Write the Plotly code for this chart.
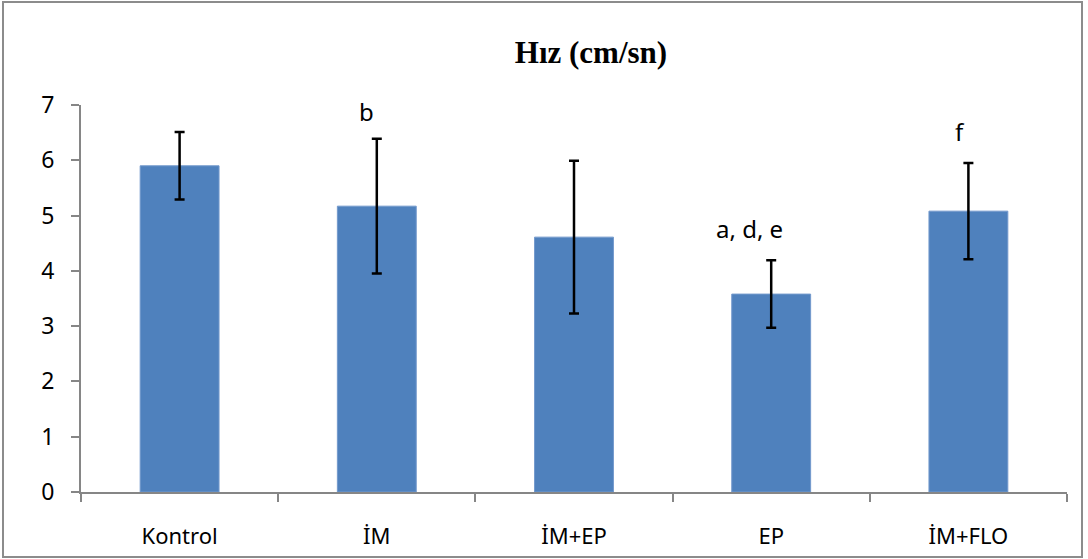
import plotly.graph_objects as go

categories = ["Kontrol", "İM", "İM+EP", "EP", "İM+FLO"]
means = [5.90, 5.17, 4.61, 3.58, 5.08]
errors = [0.61, 1.22, 1.38, 0.61, 0.87]
labels = ["", "b", "", "a, d, e", "f"]
label_xshift = [0, -10, 0, -22, -8]
label_yshift = [0, 9, 0, 13, 13]

L, R, T, B = 81, 21, 105, 67
W, H = 1088, 559
pw, ph = W - L - R, H - T - B

fig = go.Figure()
fig.add_trace(go.Bar(
    x=categories, y=means,
    marker=dict(color="#4F81BD", line=dict(color="#7399cc", width=1)),
    width=0.40,
    error_y=dict(type="data", array=errors, visible=True,
                 color="black", thickness=2.5, width=5),
    showlegend=False,
))

for c, m, e, t, xs, ys in zip(categories, means, errors, labels, label_xshift, label_yshift):
    if t:
        fig.add_annotation(x=c, y=m + e, text=t, showarrow=False,
                           yanchor="bottom", xshift=xs, yshift=ys,
                           font=dict(family="Noto Sans", size=24, color="black"))

fig.add_shape(type="rect", xref="paper", yref="paper",
              x0=(3 - L) / pw, x1=(1082 - L) / pw,
              y0=-(557 - (T + ph)) / ph, y1=(T + ph - 2) / ph,
              line=dict(color="#8c8c8c", width=2), layer="below")

fig.update_layout(
    width=W, height=H,
    margin=dict(l=L, r=R, t=T, b=B, autoexpand=False),
    paper_bgcolor="white", plot_bgcolor="white",
    title=dict(text="<b>Hız (cm/sn)</b>", x=(591 - L) / pw, xref="paper", xanchor="center",
               y=1 - 52 / H, yanchor="middle",
               font=dict(family="Liberation Serif", size=31, color="black")),
    font=dict(family="Noto Sans", size=22, color="black"),
)
fig.update_xaxes(showline=True, linecolor="#868686", linewidth=2, automargin=False,
                 ticks="outside", tickson="boundaries", ticklen=8, tickcolor="#868686",
                 tickwidth=1.5, showgrid=False, tickfont=dict(size=22), ticklabelstandoff=24)
fig.update_yaxes(range=[0, 7], dtick=1, showline=True, linecolor="#868686", linewidth=2,
                 automargin=False,
                 ticks="outside", ticklen=8, tickcolor="#868686", tickwidth=1.5,
                 showgrid=False, zeroline=False, tickfont=dict(size=23), ticklabelstandoff=12)

fig.write_html("out.html", config={"displayModeBar": False})

with open("out.html", encoding="utf-8") as f:
    html = f.read()
html = html.replace("<head>", "<head><style>html,body{margin:0;padding:0;overflow:hidden;}</style>", 1)
with open("out.html", "w", encoding="utf-8") as f:
    f.write(html)
